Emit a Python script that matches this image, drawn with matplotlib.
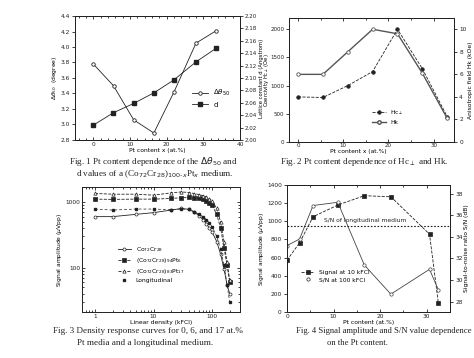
import numpy as np
from matplotlib import pyplot as plt
from matplotlib.ticker import MultipleLocator, NullFormatter

plt.rcParams['font.family'] = ['DejaVu Sans']
plt.rcParams['font.size'] = 4.3
plt.rcParams['axes.linewidth'] = 0.7
plt.rcParams['xtick.major.width'] = 0.6
plt.rcParams['ytick.major.width'] = 0.6
plt.rcParams['xtick.major.size'] = 2.5
plt.rcParams['ytick.major.size'] = 2.5
plt.rcParams['xtick.minor.size'] = 1.2
plt.rcParams['ytick.minor.size'] = 1.2

INK = '#222222'
SERIF = ['Liberation Serif', 'DejaVu Serif']

# Fig. 1 data
pt1 = [0, 5.5, 11, 16.5, 22, 28, 33.5]
dtheta50 = [3.78, 3.50, 3.06, 2.89, 3.42, 4.05, 4.21]
lattice_d = [2.024, 2.044, 2.059, 2.076, 2.097, 2.126, 2.148]

# Fig. 2 data
pt2 = [0, 5.5, 11, 16.5, 22, 27.5, 33]
hc_perp = [800, 790, 1000, 1250, 2000, 1300, 450]
hk = [6.0, 6.0, 8.0, 10.0, 9.6, 6.1, 2.1]

# Fig. 3 data
density = [1, 2, 5, 10, 20, 30, 40, 50, 60, 70, 80, 90, 100, 120, 140, 160, 180, 200]
sig_cocr = [600, 600, 650, 690, 756, 800, 775, 700, 620, 540, 470, 400, 350, 250, 160, 95, 55, 40]
sig_pt6 = [1110, 1100, 1110, 1110, 1137, 1164, 1178, 1164, 1140, 1100, 1050, 980, 900, 650, 400, 200, 110, 60]
sig_pt17 = [1355, 1320, 1320, 1276, 1385, 1430, 1400, 1350, 1300, 1250, 1200, 1130, 1050, 800, 500, 250, 120, 65]
sig_long = [783, 756, 783, 783, 765, 783, 774, 714, 650, 600, 540, 480, 420, 300, 190, 110, 55, 30]

# Fig. 4 data
pt4 = [0, 2.7, 5.6, 10.9, 16.6, 22.3, 30.6, 32.5]
signal_10k = [571, 763, 1050, 1179, 1282, 1270, 858, 99]
sn_100k = [33.2, 33.8, 36.9, 37.2, 31.4, 28.7, 31.0, 29.1]
sn_longitudinal = 35.0

W, H = 474, 358
fig = plt.figure(figsize=(W / 100, H / 100), dpi=100)


def rect(x0, y0, x1, y1):
    return [x0 / W, 1 - y1 / H, (x1 - x0) / W, (y1 - y0) / H]


def caption(x, y, s, ha='left', size=6.6):
    fig.text(x / W, 1 - y / H, s, ha=ha, va='center', fontsize=size,
             family=SERIF, color=INK)


def style(ax, size=4.2, pad=1.2):
    ax.tick_params(which='both', colors=INK, labelsize=size, pad=pad)
    for s in ax.spines.values():
        s.set_color(INK)


# ---- Fig. 1
ax1 = fig.add_axes(rect(75, 16, 240, 140))
ax1.plot(pt1, dtheta50, '-o', color=INK, lw=0.6, ms=2.5, mfc='white', mew=0.6,
         label=r'$\Delta\theta_{50}$')
ax1.plot([], [], '-s', color=INK, lw=0.6, ms=2.5, label='d')
ax1.set_xlim(-5, 40)
ax1.set_ylim(2.8, 4.4)
ax1.xaxis.set_major_locator(MultipleLocator(10))
ax1.xaxis.set_minor_locator(MultipleLocator(2))
ax1.yaxis.set_major_locator(MultipleLocator(0.2))
ax1.set_xlabel('Pt content x (at.%)', labelpad=1)
ax1.set_ylabel(r'$\Delta\theta_{50}$  (degree)', labelpad=1)
ax1.tick_params(axis='x', which='both', direction='in', top=True)
style(ax1)
ax1r = ax1.twinx()
ax1r.plot(pt1, lattice_d, '-s', color=INK, lw=0.6, ms=2.5)
ax1r.set_ylim(2.00, 2.20)
ax1r.yaxis.set_major_locator(MultipleLocator(0.02))
ax1r.set_ylabel('Lattice constant d (Angstrom)', fontsize=3.8)
ax1r.yaxis.set_label_coords((258.5 - 75) / 165, 0.5)
style(ax1r, size=4.0, pad=0.8)
ax1.legend(loc='lower right', bbox_to_anchor=(0.97, 0.22), frameon=False,
           fontsize=5, handlelength=2.2, borderpad=0.2, labelspacing=0.5)
caption(153, 162, r'Fig. 1 Pt content dependence of the $\Delta\theta_{50}$ and', ha='center')
caption(155, 174, r'd values of a (Co$_{72}$Cr$_{28}$)$_{100\text{-}x}$Pt$_x$ medium.', ha='center')

# ---- Fig. 2
ax2 = fig.add_axes(rect(289, 18, 454, 142))
ax2.plot(pt2, hc_perp, '--o', color=INK, lw=0.6, ms=2.5, mew=0.6,
         label=r'Hc$_\perp$')
ax2.plot([], [], '-o', color='#555555', lw=1.0, ms=2.5, mfc='white', label='Hk')
ax2.set_xlim(-2, 34.5)
ax2.set_ylim(0, 2200)
ax2.xaxis.set_major_locator(MultipleLocator(10))
ax2.xaxis.set_minor_locator(MultipleLocator(5))
ax2.yaxis.set_major_locator(MultipleLocator(500))
ax2.set_xlabel('Pt content x (at.%)', labelpad=0.5)
ax2.xaxis.set_label_coords(0.42, -0.06)
ax2.set_ylabel(r'Coercivity Hc$_\perp$ (Oe)', fontsize=3.8)
ax2.yaxis.set_label_coords((271 - 289) / 165, 0.5)
ax2.tick_params(axis='x', which='both', direction='in', top=True)
style(ax2, size=4.0, pad=0.8)
ax2r = ax2.twinx()
ax2r.plot(pt2, hk, '-o', color='#555555', lw=1.0, ms=2.5, mfc='white', mew=0.6)
ax2r.set_ylim(0, 11)
ax2r.yaxis.set_major_locator(MultipleLocator(2))
ax2r.set_ylabel('Anisotropic field Hk (kOe)', labelpad=1)
style(ax2r)
ax2.legend(loc='lower left', bbox_to_anchor=(0.48, 0.1), frameon=False,
           fontsize=4.3, handlelength=2.2, borderpad=0.2, labelspacing=0.5)
caption(364, 162, r'Fig. 2 Pt content dependence of Hc$_\perp$ and Hk.', ha='center')

# ---- Fig. 3
ax3 = fig.add_axes(rect(82, 187, 240, 312))
ax3.plot(density, sig_cocr, '-o', color=INK, lw=0.6, ms=2.2, mfc='white', mew=0.5,
         label=r'Co$_{72}$Cr$_{28}$')
ax3.plot(density, sig_pt6, '--s', color=INK, lw=0.6, ms=2.2, mew=0.5,
         label=r'(Co$_{72}$Cr$_{28}$)$_{94}$Pt$_6$')
ax3.plot(density, sig_pt17, '--^', color=INK, lw=0.6, ms=2.4, mfc='white', mew=0.5,
         label=r'(Co$_{72}$Cr$_{28}$)$_{83}$Pt$_{17}$')
ax3.plot(density, sig_long, 's', color=INK, ls=(0, (4, 3)), lw=0.5, ms=1.6,
         label='Longitudinal')
ax3.set_xscale('log')
ax3.set_yscale('log')
ax3.set_xlim(0.6, 300)
ax3.set_ylim(21, 1700)
ax3.xaxis.set_minor_formatter(NullFormatter())
ax3.yaxis.set_minor_formatter(NullFormatter())
ax3.set_xticks([1, 10, 100], ['1', '10', '100'])
ax3.set_yticks([100, 1000], ['100', '1000'])
ax3.set_xlabel('Linear density (kFCI)', labelpad=1)
ax3.set_ylabel(r'Signal amplitude ($\mu$Vpp)', labelpad=1)
ax3.tick_params(which='both', direction='in', top=True, right=True)
style(ax3)
h, l = ax3.get_legend_handles_labels()
h[3] = plt.Line2D([], [], ls='none', marker='s', ms=1.6, color=INK)
ax3.legend(h, l, loc='lower left', bbox_to_anchor=(0.2, 0.2), frameon=False,
           fontsize=4.3, handlelength=2.2, borderpad=0.2, labelspacing=0.3)
caption(53, 331, 'Fig. 3 Density response curves for 0, 6, and 17 at.%')
caption(77, 343, 'Pt media and a longitudinal medium.')

# ---- Fig. 4
ax4 = fig.add_axes(rect(287, 185, 450, 312))
ax4.plot(pt4, signal_10k, '--s', color=INK, lw=0.6, ms=2.2, mew=0.5,
         label='Signal at 10 kFCI')
ax4.plot([], [], 'o', color=INK, ms=2.4, mfc='white', mew=0.5, label='S/N at 100 kFCI')
ax4.set_xlim(0, 35)
ax4.set_ylim(0, 1400)
ax4.xaxis.set_major_locator(MultipleLocator(10))
ax4.xaxis.set_minor_locator(MultipleLocator(5))
ax4.yaxis.set_major_locator(MultipleLocator(200))
ax4.set_xlabel('Pt content (at.%)', labelpad=1)
ax4.set_ylabel(r'Signal amplitude ($\mu$Vpp)', labelpad=1)
ax4.tick_params(axis='x', which='both', direction='in', top=True)
style(ax4)
ax4r = ax4.twinx()
ax4r.plot(pt4, sn_100k, '-o', color='#444444', lw=0.6, ms=2.4, mfc='white', mew=0.5)
ax4r.axhline(sn_longitudinal, color=INK, ls=(0, (1.5, 1.5)), lw=0.8)
ax4r.text(16.8, sn_longitudinal + 0.25, 'S/N of longitudinal medium', fontsize=4.3,
          color=INK, ha='center', va='bottom')
ax4r.set_ylim(27.05, 38.8)
ax4r.yaxis.set_major_locator(MultipleLocator(2))
ax4r.set_ylabel('Signal-to-noise ratio S/N (dB)', labelpad=1)
style(ax4r)
ax4.legend(loc='lower left', bbox_to_anchor=(0.06, 0.2), frameon=False,
           fontsize=4.3, handlelength=2.2, borderpad=0.2, labelspacing=0.4)
caption(296, 331, 'Fig. 4 Signal amplitude and S/N value dependence', size=6.2)
caption(327, 343, 'on the Pt content.', size=6.2)

fig.savefig('out.png', dpi=100)
